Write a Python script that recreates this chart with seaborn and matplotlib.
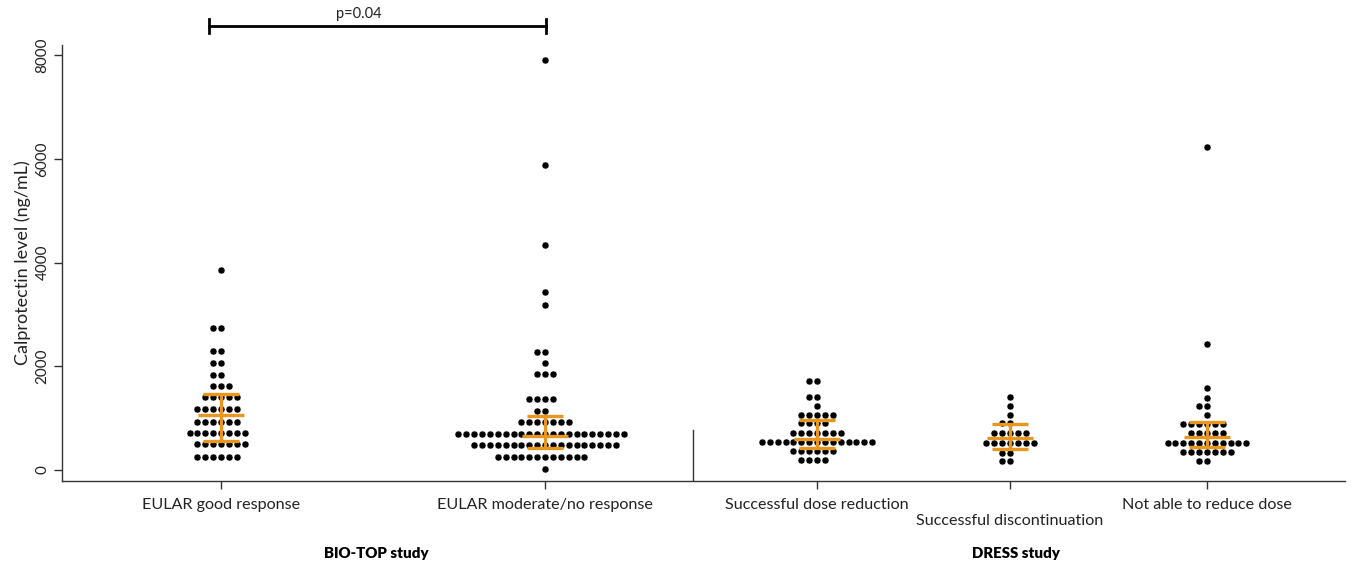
import numpy as np
import pandas as pd
import matplotlib
matplotlib.use("Agg")
import matplotlib.pyplot as plt
import seaborn as sns

# ---------------- data ----------------
groups = ["EULAR good response", "EULAR moderate/no response",
          "Successful dose reduction", "Successful discontinuation",
          "Not able to reduce dose"]

g1_levels = [256, 495, 719, 931, 1170, 1402, 1620, 1832, 2063, 2294, 2738, 3856]
g1_counts = [6, 7, 8, 6, 6, 5, 3, 2, 2, 2, 2, 1]

g2_levels = [19, 256, 482, 694, 931, 1143, 1369, 1845, 2057, 2281, 3181, 3432, 4338, 5880, 7905]
g2_counts = [1, 12, 19, 22, 7, 2, 4, 3, 1, 2, 1, 1, 1, 1, 1]

g3_levels = [193, 366, 546, 708, 900, 1060, 1234, 1402, 1722]
g3_counts = [4, 6, 15, 7, 4, 5, 1, 2, 2]

g4_levels = [174, 334, 526, 708, 900, 1060, 1234, 1402]
g4_counts = [2, 2, 7, 5, 2, 1, 1, 1]

g5_levels = [179, 353, 526, 708, 881, 1060, 1234, 1382, 1575, 2429, 6227]
g5_counts = [2, 7, 11, 5, 6, 1, 2, 1, 1, 1, 1]

medians = [1060, 656, 598, 611, 630]
q1 = [559, 430, 418, 399, 450]
q3 = [1465, 1041, 964, 881, 931]

p_text = "p=0.04"
yticks = [0, 2000, 4000, 6000, 8000]

# ---------------- layout ----------------
positions = [0.636, 1.932, 3.020, 3.792, 4.580]
sep_x = 2.524
ORANGE = "#E8961E"

plt.rcParams["font.family"] = ["Lato", "DejaVu Sans"]

fig = plt.figure(figsize=(13.52, 5.64), dpi=100)
ax = fig.add_axes([0.0459, 0.1472, 0.9489, 0.7730])

levels = [g1_levels, g2_levels, g3_levels, g4_levels, g5_levels]
counts = [g1_counts, g2_counts, g3_counts, g4_counts, g5_counts]

for pos, lv, ct in zip(positions, levels, counts):
    vals = np.repeat(lv, ct)
    df = pd.DataFrame({"x": np.full(len(vals), pos), "y": vals})
    sns.swarmplot(data=df, x="x", y="y", native_scale=True, ax=ax,
                  color="black", size=5.05, linewidth=0.35, edgecolor="white",
                  warn_thresh=1.0, zorder=2)

# median + IQR
for pos, m, lo, hi in zip(positions, medians, q1, q3):
    ax.errorbar([pos], [m], yerr=[[m - lo], [hi - m]], fmt="_",
                color=ORANGE, markersize=33.6, markeredgewidth=2.4,
                elinewidth=2.4, capsize=13.2, capthick=2.4, zorder=5)

ax.set_xlim(0, 5.132)
ax.set_ylim(-212, 8194)

ax.spines["top"].set_visible(False)
ax.spines["right"].set_visible(False)
for s in ["left", "bottom"]:
    ax.spines[s].set_linewidth(1.0)
    ax.spines[s].set_color("#333333")

ax.set_yticks(yticks)
ax.set_yticklabels([str(t) for t in yticks], rotation=90, va="center",
                   fontsize=11)
ax.set_xticks(positions)
xl = list(groups)
xl[3] = "\n" + xl[3]
ax.set_xticklabels(xl, fontsize=11.6, linespacing=1.25)
ax.tick_params(axis="both", length=6, width=1, color="#333333", labelcolor="#222222")
ax.tick_params(axis="y", pad=3)
ax.tick_params(axis="x", pad=6)
ax.set_xlabel("")
ax.set_ylabel("Calprotectin level (ng/mL)", fontsize=13, color="#222222", labelpad=3)

# separator between studies
ax.axvline(sep_x, ymin=0, ymax=0.117, color="#333333", lw=1.0)

# significance bracket
bx0, bx1 = (209 - 62) / 250, (546 - 62) / 250
tr = ax.get_xaxis_transform()
ax.plot([bx0, bx1], [1.0436, 1.0436], color="black", lw=2, transform=tr, clip_on=False)
ax.plot([bx0, bx0], [1.0275, 1.0596], color="black", lw=2, transform=tr, clip_on=False)
ax.plot([bx1, bx1], [1.0275, 1.0596], color="black", lw=2, transform=tr, clip_on=False)
ax.text((359 - 62) / 250, 1.072, p_text, transform=tr, ha="center", va="center",
        fontsize=10.5, color="#222222")

fig.text(376 / 1352, 1 - 554 / 564, "BIO-TOP study", ha="center", va="center",
         fontsize=10.8, fontweight="heavy", color="black")
fig.text(1016 / 1352, 1 - 554 / 564, "DRESS study", ha="center", va="center",
         fontsize=10.8, fontweight="heavy", color="black")

fig.savefig("out.png", dpi=100)
